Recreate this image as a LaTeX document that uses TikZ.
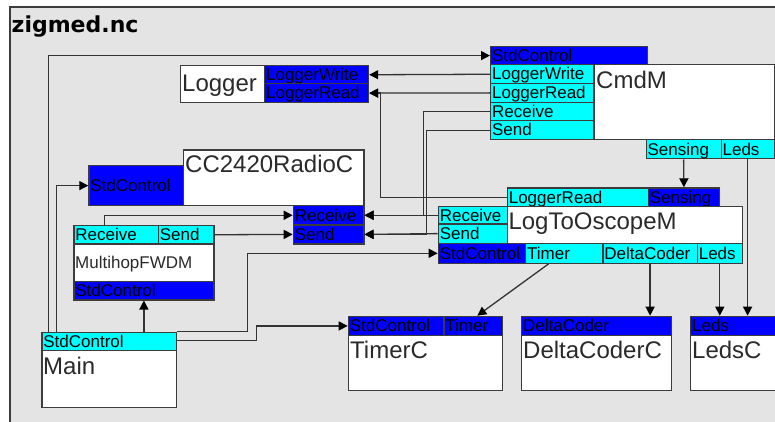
\documentclass[tikz,border=0pt]{standalone}
\usepackage{fontspec}
\setmainfont{Liberation Sans}
\newfontfamily\titlefamily{DejaVu Sans}
\usetikzlibrary{arrows.meta}

\definecolor{framegray}{HTML}{E4E4E4}
\definecolor{wire}{HTML}{333333}
\definecolor{edge}{HTML}{3C3C3C}
\definecolor{pblue}{HTML}{0000FF}
\definecolor{pcyan}{HTML}{00FFFF}
\definecolor{nametext}{HTML}{2A2A2A}

\newcommand\portsize{\fontsize{17}{18}\selectfont}
\newcommand\namesize{\fontsize{24}{26}\selectfont}

\tikzset{
  blk/.style={draw=edge, line width=1.2pt, inner xsep=1.5pt, inner ysep=0pt,
    anchor=north west, align=left, font=\portsize,
    text height=13.5pt, text depth=2pt, text=black},
  bport/.style={blk, fill=pblue},
  cport/.style={blk, fill=pcyan},
  body/.style={blk, fill=white},
  compname/.style={anchor=base west, inner sep=0pt, font=\namesize, text=nametext},
  conn/.style={draw=wire, line width=1.3pt,
    -{Triangle[length=9pt,width=9pt,color=black]}},
}

% \blk{name}{style}{x1}{y1}{x2}{y2}{label}: a box given by its corners
\newcommand\blk[7]{%
  \pgfmathsetmacro\blkw{#5-#3}%
  \pgfmathsetmacro\blkh{#6-#4}%
  \pgfmathsetmacro\blkt{#5-#3-3}%
  \node[#2, minimum width=\blkw pt, minimum height=\blkh pt, text width=\blkt pt]
    (#1) at (#3,#4) {#7};}

\begin{document}
\begin{tikzpicture}[x=1pt, y=-1pt]
\useasboundingbox (0,0) rectangle (775,422);
\clip (0,0) rectangle (775,422);
\fill[white] (0,0) rectangle (775,422);

% configuration frame
\draw[draw=edge, line width=1.3pt, fill=framegray] (10,7) rectangle (820,450);
\node[anchor=base west, inner sep=0pt, text=black,
  font=\titlefamily\bfseries\fontsize{22}{24}\selectfont] (title) at (11.5,33) {zigmed.nc};

% Logger
\blk{logBody}{body}{180}{65}{264}{101.7}{}
\blk{logLW}{bport}{264}{65}{368}{83.3}{LoggerWrite}
\blk{logLR}{bport}{264}{83.3}{368}{101.7}{LoggerRead}
\node[compname] (logName) at (182,91.5) {Logger};

% CmdM
\blk{cmdStd}{bport}{490}{45.7}{646.5}{64.3}{StdControl}
\blk{cmdBody}{body}{593.3}{64.3}{774}{139}{}
\blk{cmdLW}{cport}{490}{64.3}{593.3}{83}{LoggerWrite}
\blk{cmdLR}{cport}{490}{83}{593.3}{101.6}{LoggerRead}
\blk{cmdRcv}{cport}{490}{101.6}{593.3}{120.3}{Receive}
\blk{cmdSnd}{cport}{490}{120.3}{593.3}{139}{Send}
\blk{cmdSens}{cport}{645.5}{139}{720.5}{158.3}{Sensing}
\blk{cmdLeds}{cport}{720.5}{139}{773.5}{158.3}{Leds}
\node[compname] (cmdName) at (596,88.3) {CmdM};

% CC2420RadioC
\blk{ccBody}{body}{182.7}{149.5}{363.3}{205}{}
\blk{ccStd}{bport}{88.3}{165}{182.7}{205}{StdControl}
\blk{ccRcv}{bport}{292.7}{205}{363.3}{224.3}{Receive}
\blk{ccSnd}{bport}{292.7}{224.3}{363.3}{243.3}{Send}
\node[compname] (ccName) at (185,172.3) {CC2420RadioC};

% MultihopFWDM
\blk{mhRcv}{cport}{73.3}{225}{157.7}{243.3}{Receive}
\blk{mhSnd}{cport}{157.7}{225}{213.3}{243.3}{Send}
\blk{mhBody}{body}{73.3}{243.3}{213.3}{280.7}{}
\blk{mhStd}{bport}{73.3}{280.7}{213.3}{299.3}{StdControl}
\node[compname, font=\portsize] (mhName) at (75,268) {MultihopFWDM};

% LogToOscopeM
\blk{ltoLR}{cport}{506.7}{187.3}{647.7}{206}{LoggerRead}
\blk{ltoSens}{bport}{647.7}{187.3}{719}{206}{Sensing}
\blk{ltoBody}{body}{506.7}{206}{741.7}{242.7}{}
\blk{ltoRcv}{cport}{437.7}{206}{506.7}{223.3}{Receive}
\blk{ltoSnd}{cport}{437.7}{223.3}{506.7}{242.7}{Send}
\blk{ltoStd}{bport}{437.7}{242.7}{525}{262.7}{StdControl}
\blk{ltoTimer}{cport}{525}{242.7}{602.3}{262.7}{Timer}
\blk{ltoDC}{cport}{602.3}{242.7}{696.7}{262.7}{DeltaCoder}
\blk{ltoLeds}{cport}{696.7}{242.7}{741.7}{262.7}{Leds}
\node[compname] (ltoName) at (508.3,229.3) {LogToOscopeM};

% TimerC
\blk{tcStd}{bport}{347.7}{315.7}{443.3}{335}{StdControl}
\blk{tcTimer}{bport}{443.3}{315.7}{501.7}{335}{Timer}
\blk{tcBody}{body}{347.7}{335}{501.7}{390}{}
\node[compname] (tcName) at (350,358.3) {TimerC};

% DeltaCoderC
\blk{dcHd}{bport}{521}{315.7}{670.7}{335}{DeltaCoder}
\blk{dcBody}{body}{521}{335}{670.7}{390}{}
\node[compname] (dcName) at (523,358.3) {DeltaCoderC};

% LedsC
\blk{ledsHd}{bport}{690}{315.7}{800}{335}{Leds}
\blk{ledsBody}{body}{690}{335}{800}{390}{}
\node[compname] (ledsName) at (692,358.3) {LedsC};

% Main
\blk{mainStd}{cport}{41.3}{331.7}{175.7}{350}{StdControl}
\blk{mainBody}{body}{41.3}{350}{175.7}{406.7}{}
\node[compname] (mainName) at (43,374) {Main};

% wiring
\draw[conn] ([xshift=7pt]mainStd.north west) |- (cmdStd.west);
\draw[conn] ([xshift=15.4pt]mainStd.north west) |- (ccStd.west);
\draw[conn] (mhStd.south |- mainStd.north) -- (mhStd.south);
\draw[conn] (mainStd.north east) -- ++(70.3,0) |- (ltoStd.west);
\draw[conn] ([yshift=-9pt]mainStd.north east) -- ++(79.3,0) |- (tcStd.west);
\draw[conn] ([xshift=31pt]mhRcv.north west) |- (ccRcv.west);
\draw[conn] (mhSnd.east) -- (ccSnd.west);
\draw[conn] (cmdLW.west) -- (logLW.east);
\draw[conn] (cmdLR.west) -- (logLR.east);
\draw[conn] (ltoLR.west) -- ++(-126,0) |- (logLR.east);
\draw[conn] (cmdRcv.west) -- ++(-66.7,0) |- (ccRcv.east);
\draw[conn] (cmdSnd.west) -- ++(-63.3,0) |- (ccSnd.east);
\draw[conn] (ltoRcv.west) -- (ccRcv.east);
\draw[conn] (ltoSnd.west) -- (ccSnd.east);
\draw[conn] (cmdSens.south) -- (ltoSens.north);
\draw[conn] (cmdLeds.south) -- (cmdLeds.south |- ledsHd.north);
\draw[conn] ([xshift=-15.7pt]ltoTimer.south) -- ([xshift=4.2pt]tcTimer.north);
\draw[conn] (ltoDC.south) -- (ltoDC.south |- dcHd.north);
\draw[conn] (ltoLeds.south) -- (ltoLeds.south |- ledsHd.north);
\end{tikzpicture}
\end{document}
